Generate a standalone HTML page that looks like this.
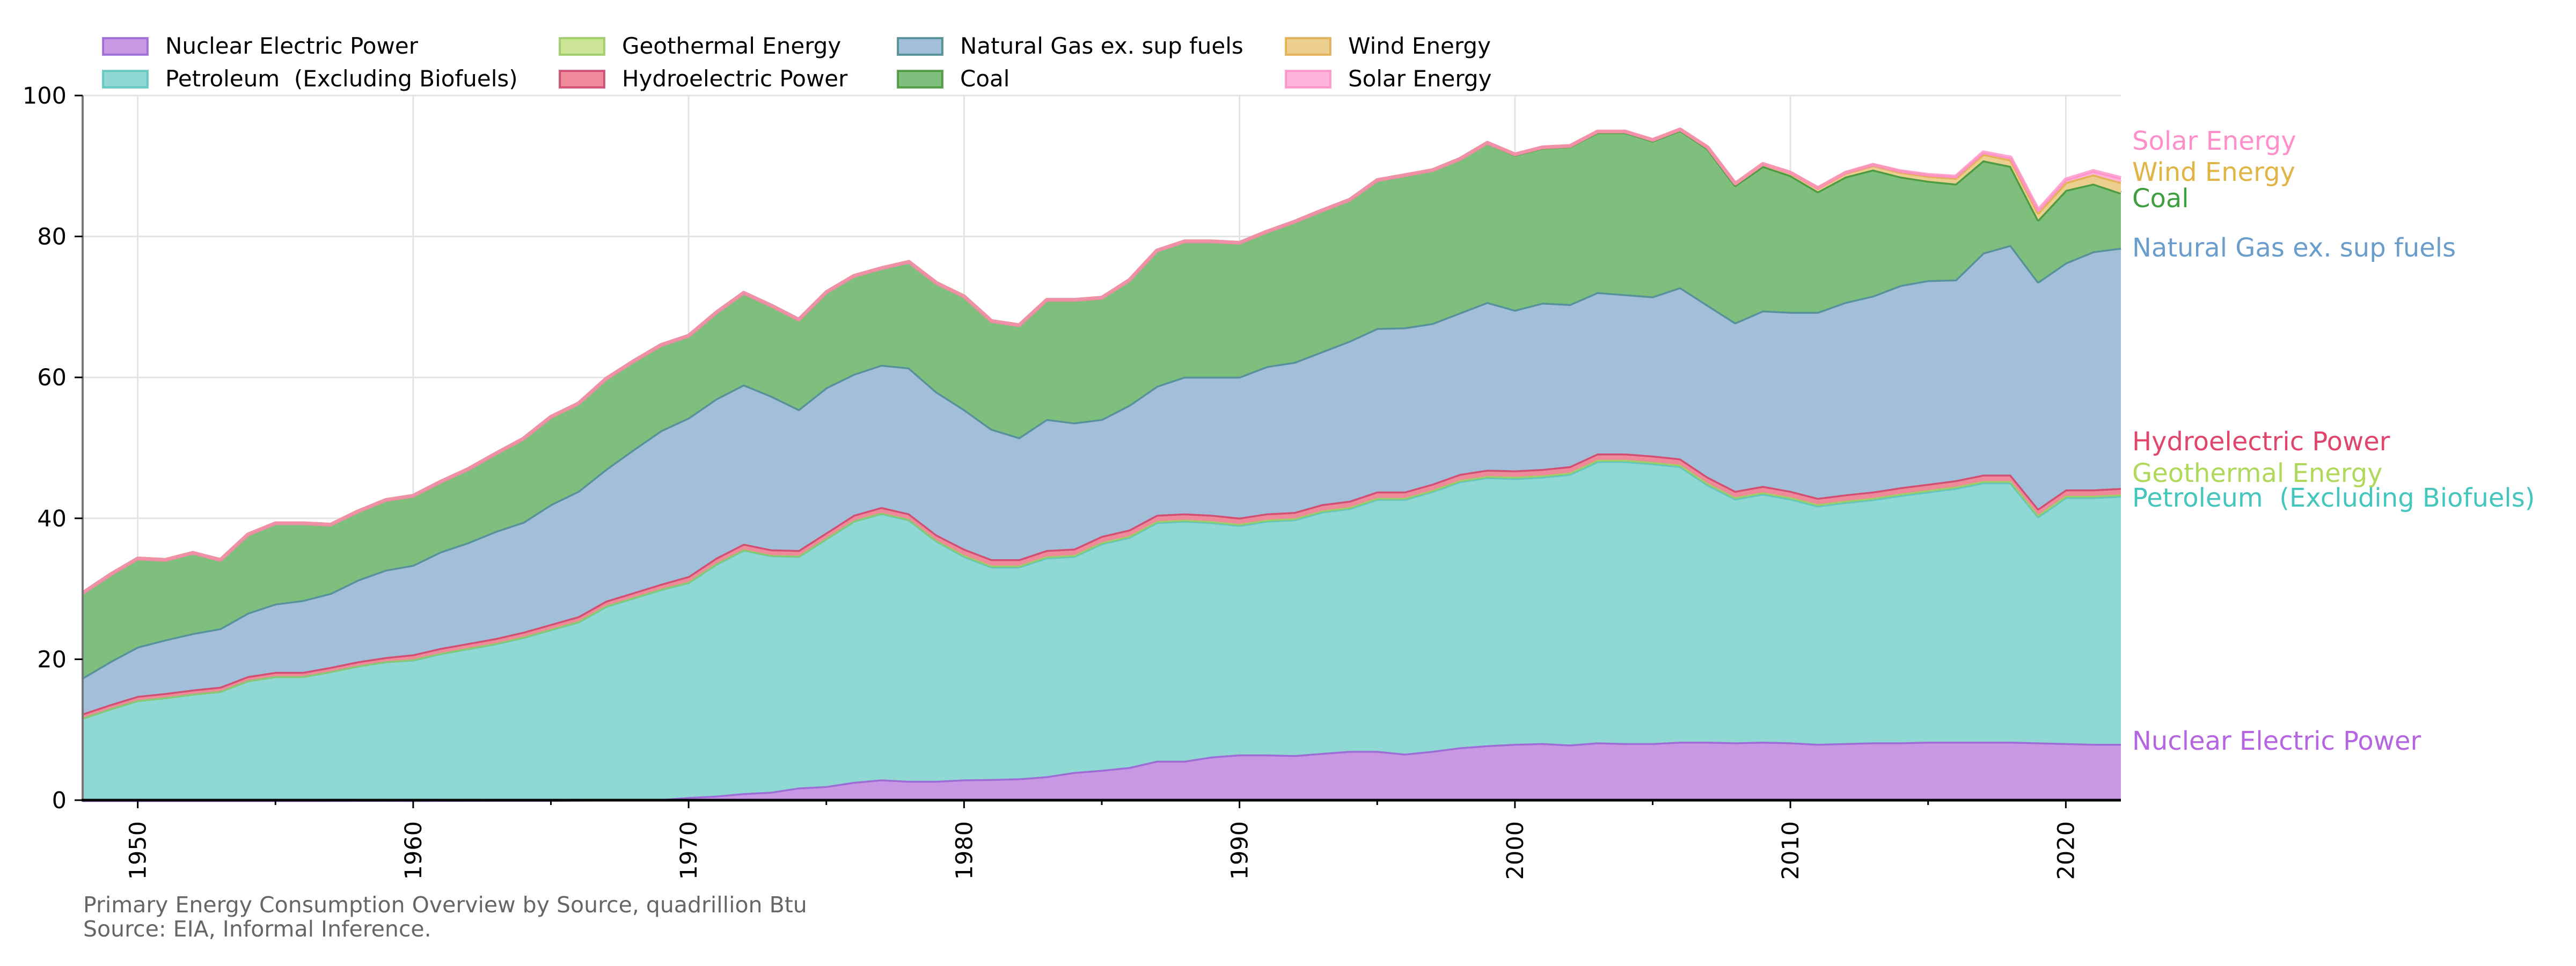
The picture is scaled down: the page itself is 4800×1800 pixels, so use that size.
<!DOCTYPE html>
<html><head><meta charset="utf-8">
<style>
html,body{margin:0;padding:0;background:#fff;}
svg{display:block;font-family:"DejaVu Sans","Liberation Sans",sans-serif;}
svg text{white-space:pre;}
</style></head>
<body>
<svg id="chart" width="4800" height="1800" viewBox="0 0 4800 1800" xmlns="http://www.w3.org/2000/svg" xml:space="preserve">
<g id="grid"></g>
<g id="areas"></g>
<g id="axes"></g>
<g id="legend"></g>
<g id="endlabels"></g>
<text x="155" y="1700" font-size="41" fill="#666">Primary Energy Consumption Overview by Source, quadrillion Btu</text>
<text x="155" y="1745" font-size="41" fill="#666">Source: EIA, Informal Inference.</text>
</svg>
<script>
const startYear = 1948;
const seriesNames = ["Nuclear Electric Power","Petroleum  (Excluding Biofuels)","Geothermal Energy","Hydroelectric Power","Natural Gas ex. sup fuels","Coal","Wind Energy","Solar Energy"];
const nuclear = [0,0,0,0,0,0,0,0,0,0.01,0.02,0.03,0.01,0.02,0.03,0.04,0.04,0.04,0.06,0.09,
0.14,0.15,0.45,0.65,1.0,1.2,1.8,2.0,2.6,2.95,2.75,2.75,2.95,3.0,3.1,3.4,4.0,4.3,4.7,
5.6,5.6,6.2,6.5,6.5,6.4,6.7,7.0,7.0,6.6,7.0,7.5,7.8,8.0,8.1,7.9,8.2,8.1,
8.1,8.3,8.3,8.2,8.3,8.2,8.0,8.1,8.2,8.2,8.3,8.3,8.3,8.3,8.2,8.1,8.0,8.0];
const petroleum = [11.7,13.0,14.2,14.6,15.1,15.5,17.0,17.6,17.6,18.29,19.08,19.67,19.94,20.83,21.52,22.21,23.11,24.21,25.29,27.46,
28.61,29.8,30.5,32.9,34.55,33.55,32.85,35.15,37.05,37.8,37.1,34.1,31.7,30.15,30.05,31.05,30.65,32.15,32.65,
33.85,34.05,33.25,32.55,33.15,33.45,34.25,34.45,35.75,36.15,36.85,37.75,38.05,37.7,37.8,38.4,39.9,40.0,
39.7,39.1,36.5,34.6,35.2,34.6,33.8,34.2,34.5,35.1,35.5,36.0,36.8,36.8,32.1,34.9,35.0,35.2];
const geothermal = [0,0,0,0,0,0,0,0,0,0,0,0,0.05,0.05,0.05,0.05,0.05,0.05,0.05,0.05,
0.05,0.05,0.05,0.05,0.05,0.05,0.05,0.05,0.05,0.05,0.05,0.05,0.15,0.15,0.15,0.15,0.15,0.15,0.15,
0.15,0.15,0.15,0.15,0.15,0.15,0.15,0.15,0.15,0.15,0.15,0.15,0.15,0.2,0.2,0.2,0.2,0.2,
0.2,0.2,0.2,0.2,0.2,0.2,0.2,0.2,0.2,0.2,0.2,0.2,0.2,0.2,0.2,0.2,0.2,0.2];
const hydro = [0.6,0.6,0.6,0.6,0.6,0.6,0.6,0.6,0.6,0.6,0.6,0.6,0.7,0.7,0.7,0.7,0.7,0.7,0.7,0.7,
0.7,0.7,0.8,0.8,0.8,0.8,0.8,0.8,0.8,0.8,0.8,0.8,0.9,0.9,0.9,0.9,0.9,0.9,0.9,
0.9,0.9,0.9,0.9,0.9,0.9,0.9,0.9,0.9,0.9,0.9,0.9,0.9,0.9,0.9,0.9,0.9,0.9,
0.9,0.9,0.9,0.9,0.9,0.9,0.9,0.9,0.9,0.9,0.9,0.9,0.9,0.9,0.9,0.9,0.9,0.9];
const naturalGas = [5.1,6.1,7.0,7.6,8.0,8.3,9.0,9.7,10.2,10.5,11.6,12.4,12.7,13.7,14.3,15.2,15.6,17.0,17.8,18.7,
20.3,21.8,22.5,22.6,22.6,21.8,20.0,20.6,20.0,20.2,20.7,20.3,19.8,18.5,17.3,18.6,17.9,16.6,17.7,
18.3,19.4,19.6,20.0,20.9,21.3,21.7,22.7,23.2,23.3,22.8,22.9,23.8,22.8,23.6,23.0,22.9,22.6,
22.6,24.3,24.4,23.9,24.9,25.4,26.4,27.3,27.8,28.7,28.9,28.5,31.5,32.6,32.2,32.2,33.8,34.1];
const coal = [12.0,12.3,12.5,11.3,11.4,9.7,11.1,11.4,10.9,9.7,9.7,9.9,9.8,9.9,10.4,11.0,11.8,12.4,12.4,12.8,
12.5,12.1,11.6,12.2,13.0,12.8,12.7,13.5,13.9,13.7,15.0,15.4,16.0,15.3,15.9,16.9,17.4,17.2,17.7,
19.2,19.2,19.2,19.0,19.1,19.9,20.0,20.0,21.0,21.6,21.7,21.8,22.6,22.0,22.0,22.4,22.7,23.0,
22.1,22.3,22.2,19.5,20.5,19.4,17.1,17.8,17.9,15.4,14.1,13.6,13.1,11.2,8.8,10.3,9.6,7.8];
const wind = [0,0,0,0,0,0,0,0,0,0,0,0,0,0,0,0,0,0,0,0,
0,0,0,0,0,0,0,0,0,0,0,0,0,0,0,0,0,0,0,
0,0,0,0,0,0,0,0,0,0,0,0,0,0.05,0.05,0.05,0.1,0.1,
0.1,0.1,0.15,0.2,0.3,0.35,0.45,0.5,0.6,0.65,0.7,0.8,0.9,0.9,1.0,1.1,1.3,1.5];
const solar = [0,0,0,0,0,0,0,0,0,0,0,0,0,0,0,0,0,0,0,0,
0,0,0,0,0,0,0,0,0,0,0,0,0,0,0,0,0,0,0,
0,0,0,0,0,0,0,0,0,0,0,0,0,0,0,0,0,0,
0,0,0,0,0,0.02,0.03,0.05,0.08,0.12,0.15,0.2,0.25,0.3,0.35,0.4,0.5,0.6];
const yTicks = [0,20,40,60,80,100];
const xTicks = [1950,1960,1970,1980,1990,2000,2010,2020];

const NS="http://www.w3.org/2000/svg";
const X0=154, X1=3952, Y0=1491, Y1=178;
const endYear = startYear + nuclear.length - 1;
function xs(yr){return X0+(yr-startYear)*(X1-X0)/(endYear-startYear);}
function ys(v){return Y0-v*(Y0-Y1)/100;}
function mk(tag,attrs,parent){const e=document.createElementNS(NS,tag);for(const k in attrs)e.setAttribute(k,attrs[k]);parent.appendChild(e);return e;}

const series=[nuclear,petroleum,geothermal,hydro,naturalGas,coal,wind,solar];
const fills=["#c997e3","#8fd8d3","#cce596","#ee8a99","#a2bed8","#7ebf7e","#ecce8e","#ffb3da"];
const lines=["#8e5fd2","#56c2bb","#93c85a","#c83a66","#3d8385","#3f8f2f","#e0a844","#ff8ac5"];
const labelColors=["#b565e0","#45c6bd","#b0d85a","#e0456e","#6a9dcb","#3f9f3f","#e0b445","#ff8fcb"];
const keys=["nuclear","petroleum","geothermal","hydro","natural-gas","coal","wind","solar"];

const grid=document.getElementById('grid');
yTicks.forEach(t=>{const l=mk('line',{x1:X0,x2:X1,y1:ys(t),y2:ys(t),stroke:'#e3e3e3','stroke-width':3},grid);

});
xTicks.forEach(t=>{const l=mk('line',{x1:xs(t),x2:xs(t),y1:Y1,y2:Y0,stroke:'#e3e3e3','stroke-width':3},grid);

});

const areas=document.getElementById('areas');
let base=nuclear.map(()=>0);
series.forEach((s,i)=>{
  const top=base.map((b,j)=>b+s[j]);
  let d='M';
  top.forEach((v,j)=>{d+=xs(startYear+j).toFixed(1)+','+ys(v).toFixed(1)+' L';});
  for(let j=base.length-1;j>=0;j--){d+=xs(startYear+j).toFixed(1)+','+ys(base[j]).toFixed(1)+(j>0?' L':'');}
  d+=' Z';
  const p=mk('path',{d:d,fill:fills[i],stroke:'none'},areas);
  
  
  let ld='M'+top.map((v,j)=>xs(startYear+j).toFixed(1)+','+ys(v).toFixed(1)).join(' L');
  const ln=mk('path',{d:ld,fill:'none',stroke:lines[i],'stroke-width':7,'stroke-opacity':0.75,'stroke-linejoin':'round'},areas);
  
  
  base=top;
});

const axes=document.getElementById('axes');
let a=mk('line',{x1:X0,x2:X0,y1:Y1,y2:Y0+2,stroke:'#777','stroke-width':4},axes);


a=mk('line',{x1:X0-2,x2:X1,y1:Y0,y2:Y0,stroke:'#000','stroke-width':5},axes);


yTicks.forEach(t=>{
  const tk=mk('line',{x1:X0-15,x2:X0,y1:ys(t),y2:ys(t),stroke:'#000','stroke-width':3},axes);
  
  
  const tx=mk('text',{x:X0-30,y:ys(t)+15,'text-anchor':'end','font-size':43,fill:'#000'},axes);
  tx.textContent=t;
  
  
});
for(let yr=1950;yr<=2020;yr+=5){
  const major=yr%10===0;
  const tk=mk('line',{x1:xs(yr),x2:xs(yr),y1:Y0,y2:Y0+(major?15:9),stroke:'#000','stroke-width':3},axes);
  
  
}
xTicks.forEach(t=>{
  const x=xs(t)+15, y=1530;
  const tx=mk('text',{x:x,y:y,'text-anchor':'end','font-size':43,fill:'#000',transform:'rotate(-90 '+x+' '+y+')'},axes);
  tx.textContent=t;
  
  
});

const legend=document.getElementById('legend');
const legPos=[[190,69],[190,130],[1041,69],[1041,130],[1671,69],[1671,130],[2394,69],[2394,130]];
seriesNames.forEach((n,i)=>{
  const g=mk('g',{},legend);
  
  
  const [lx,ly]=legPos[i];
  const r=mk('rect',{x:lx+2,y:ly+2,width:83,height:31,fill:fills[i],stroke:lines[i],'stroke-width':4,'stroke-opacity':0.8},g);
  
  
  const t=mk('text',{x:lx+118,y:ly+31,'font-size':42,fill:'#000'},g);
  t.textContent=n;
  
  
});

const el=document.getElementById('endlabels');
const endY=[1381,928,882,823,462,370,321,263];
seriesNames.forEach((n,i)=>{
  const t=mk('text',{x:3973,y:endY[i]+16,'font-size':48,fill:labelColors[i]},el);
  t.textContent=n;
  
  
});
</script>
</body></html>
